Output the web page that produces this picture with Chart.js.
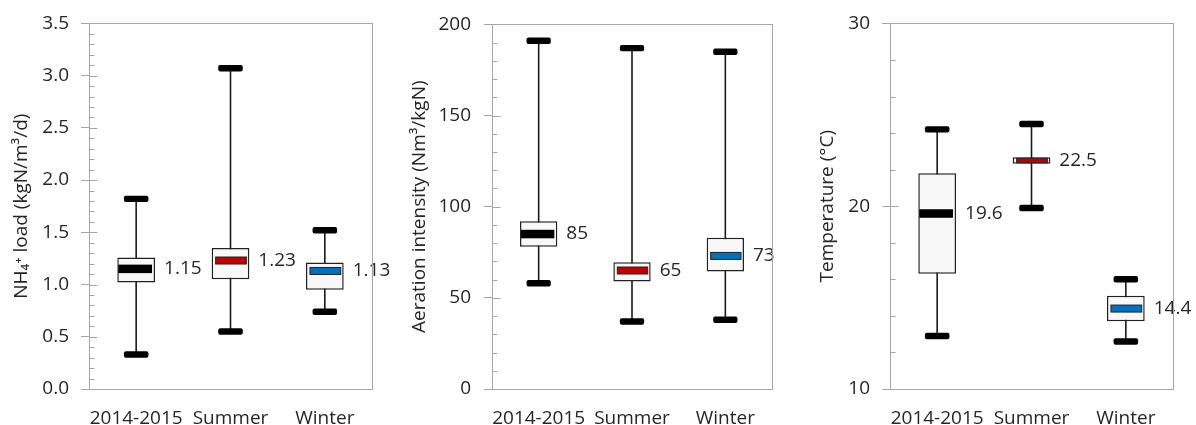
<!DOCTYPE html>
<html>
<head>
<meta charset="utf-8">
<script src="https://cdn.jsdelivr.net/npm/chart.js"></script>
<style>
  body { margin: 0; background: #fff; width: 1196px; height: 425px; overflow: hidden; position: relative; }
  canvas { position: absolute; top: 0; }
</style>
</head>
<body>
<canvas id="nh4Chart" width="400" height="425" style="left:0"></canvas>
<canvas id="aerationChart" width="400" height="425" style="left:400px"></canvas>
<canvas id="tempChart" width="396" height="425" style="left:800px"></canvas>
<script>
// Categories shared by all three panels
const categories = ['2014-2015', 'Summer', 'Winter'];

// NH4+ load (kgN/m3/d)
const nh4Min = [0.33, 0.55, 0.74];
const nh4Q1 = [1.02, 1.05, 0.95];
const nh4Median = [1.15, 1.23, 1.13];
const nh4Q3 = [1.26, 1.35, 1.21];
const nh4Max = [1.82, 3.07, 1.52];

// Aeration intensity (Nm3/kgN)
const aerMin = [58, 37, 38];
const aerQ1 = [78, 59, 64.5];
const aerMedian = [85, 65, 73];
const aerQ3 = [92, 69.5, 83];
const aerMax = [191, 187, 185];

// Temperature (°C)
const tempMin = [12.9, 19.9, 12.6];
const tempQ1 = [16.3, 22.32, 13.7];
const tempMedian = [19.6, 22.5, 14.4];
const tempQ3 = [21.8, 22.68, 15.1];
const tempMax = [24.2, 24.5, 16.0];

const medianColors = ['#000000', '#c00000', '#0070c0'];
const FONT = "'Open Sans', sans-serif";
const TEXT = '#262626';

// whiskers, caps, median bars, labels, frame and minor ticks
const boxPlotPlugin = {
  id: 'boxPlot',
  beforeDatasetsDraw(chart, args, opts) {
    const { ctx } = chart;
    const y = chart.scales.y;
    const bars = chart.getDatasetMeta(0).data;
    ctx.save();
    ctx.strokeStyle = '#1a1a1a';
    ctx.lineWidth = 1.6;
    bars.forEach((bar, i) => {
      ctx.beginPath();
      ctx.moveTo(bar.x, y.getPixelForValue(opts.mins[i]));
      ctx.lineTo(bar.x, y.getPixelForValue(opts.maxs[i]));
      ctx.stroke();
    });
    ctx.restore();
  },
  afterDatasetsDraw(chart, args, opts) {
    const { ctx, chartArea } = chart;
    const y = chart.scales.y;
    const bars = chart.getDatasetMeta(0).data;
    ctx.save();
    bars.forEach((bar, i) => {
      const w = bar.width;
      // caps
      const capW = w * 0.65;
      [opts.mins[i], opts.maxs[i]].forEach(v => {
        const py = y.getPixelForValue(v);
        ctx.fillStyle = '#000';
        ctx.beginPath();
        ctx.roundRect(bar.x - capW / 2, py - 3.2, capW, 6.4, 2);
        ctx.fill();
      });
      // median bar
      const my = y.getPixelForValue(opts.medians[i]);
      const boxH = Math.abs(y.getPixelForValue(opts.q1[i]) - y.getPixelForValue(opts.q3[i]));
      if (i === 0) {
        const h = Math.min(8.5, boxH - 2);
        ctx.fillStyle = '#000';
        ctx.fillRect(bar.x - w / 2 + 1, my - h / 2, w - 4, h);
      } else {
        const h = Math.min(7, boxH - 2);
        ctx.fillStyle = medianColors[i];
        ctx.strokeStyle = '#222';
        ctx.lineWidth = 1;
        ctx.fillRect(bar.x - w / 2 + 4, my - h / 2, w - 7, h);
        ctx.strokeRect(bar.x - w / 2 + 4, my - h / 2, w - 7, h);
      }
      // value label
      ctx.fillStyle = TEXT;
      ctx.font = '19px ' + FONT;
      ctx.textAlign = 'left';
      ctx.textBaseline = 'middle';
      ctx.fillText(opts.medians[i].toFixed(opts.decimals), bar.x + w / 2 + 9, my);
    });
    // plot frame
    ctx.strokeStyle = '#a6a6a6';
    ctx.lineWidth = 1;
    ctx.strokeRect(Math.round(chartArea.left) + 0.5, Math.round(chartArea.top) + 0.5,
      Math.round(chartArea.right - chartArea.left), Math.round(chartArea.bottom - chartArea.top));
    // inner ticks (minor every minorStep, major a bit longer)
    const x0 = Math.round(chartArea.left) + 0.5;
    const steps = Math.round((y.max - y.min) / opts.minorStep);
    for (let k = 1; k < steps; k++) {
      const v = y.min + k * opts.minorStep;
      const py = Math.round(y.getPixelForValue(v)) + 0.5;
      const major = Math.abs(v / opts.majorStep - Math.round(v / opts.majorStep)) < 1e-6;
      ctx.beginPath();
      ctx.moveTo(x0, py);
      ctx.lineTo(x0 + (major ? 8 : 5), py);
      ctx.stroke();
    }
    ctx.restore();
  }
};

function makeChart(id, cfg) {
  return new Chart(document.getElementById(id), {
    type: 'bar',
    data: {
      labels: categories,
      datasets: [{
        data: cfg.q1.map((v, i) => [v, cfg.q3[i]]),
        backgroundColor: '#f8f8f8',
        borderColor: '#222',
        borderWidth: 1.5,
        borderSkipped: false,
        barPercentage: 0.4,
        categoryPercentage: 1
      }]
    },
    options: {
      responsive: false,
      animation: false,
      layout: { padding: { left: 0, right: cfg.padRight, top: 22, bottom: 0 } },
      plugins: {
        legend: { display: false },
        tooltip: { enabled: false },
        boxPlot: {
          mins: cfg.min, maxs: cfg.max, medians: cfg.median, q1: cfg.q1, q3: cfg.q3,
          decimals: cfg.decimals, minorStep: cfg.minorStep, majorStep: cfg.majorStep
        }
      },
      scales: {
        x: {
          grid: { display: false, drawTicks: false },
          border: { display: false },
          ticks: { color: TEXT, font: { family: FONT, size: 19 }, padding: 18, maxRotation: 0, autoSkip: false },
          afterFit: s => { s.height = 36; }
        },
        y: {
          min: cfg.yMin,
          max: cfg.yMax,
          grid: { drawOnChartArea: false, drawTicks: true, tickLength: 8, color: '#a6a6a6' },
          border: { display: false },
          ticks: {
            stepSize: cfg.majorStep,
            color: TEXT,
            font: { family: FONT, size: 19 },
            padding: cfg.tickPad,
            callback: v => Number(v).toFixed(cfg.tickDecimals)
          },
          title: {
            display: true,
            text: cfg.title,
            color: TEXT,
            font: { family: FONT, size: 19 },
            padding: { top: cfg.titlePad, bottom: 0 }
          },
          afterFit: s => { s.width = cfg.axisWidth; }
        }
      }
    },
    plugins: [boxPlotPlugin]
  });
}

makeChart('nh4Chart', {
  min: nh4Min, q1: nh4Q1, median: nh4Median, q3: nh4Q3, max: nh4Max,
  yMin: 0, yMax: 3.5, majorStep: 0.5, minorStep: 0.1, tickDecimals: 1, decimals: 2,
  title: 'NH\u2084\u207A load (kgN/m\u00B3/d)', titlePad: 10, tickPad: 12,
  axisWidth: 89, padRight: 28
});

makeChart('aerationChart', {
  min: aerMin, q1: aerQ1, median: aerMedian, q3: aerQ3, max: aerMax,
  yMin: 0, yMax: 200, majorStep: 50, minorStep: 10, tickDecimals: 0, decimals: 0,
  title: 'Aeration intensity (Nm\u00B3/kgN)', titlePad: 8, tickPad: 13,
  axisWidth: 92, padRight: 28
});

makeChart('tempChart', {
  min: tempMin, q1: tempQ1, median: tempMedian, q3: tempQ3, max: tempMax,
  yMin: 10, yMax: 30, majorStep: 10, minorStep: 2, tickDecimals: 0, decimals: 1,
  title: 'Temperature (\u00B0C)', titlePad: 16, tickPad: 12,
  axisWidth: 90, padRight: 23
});
</script>
</body>
</html>
